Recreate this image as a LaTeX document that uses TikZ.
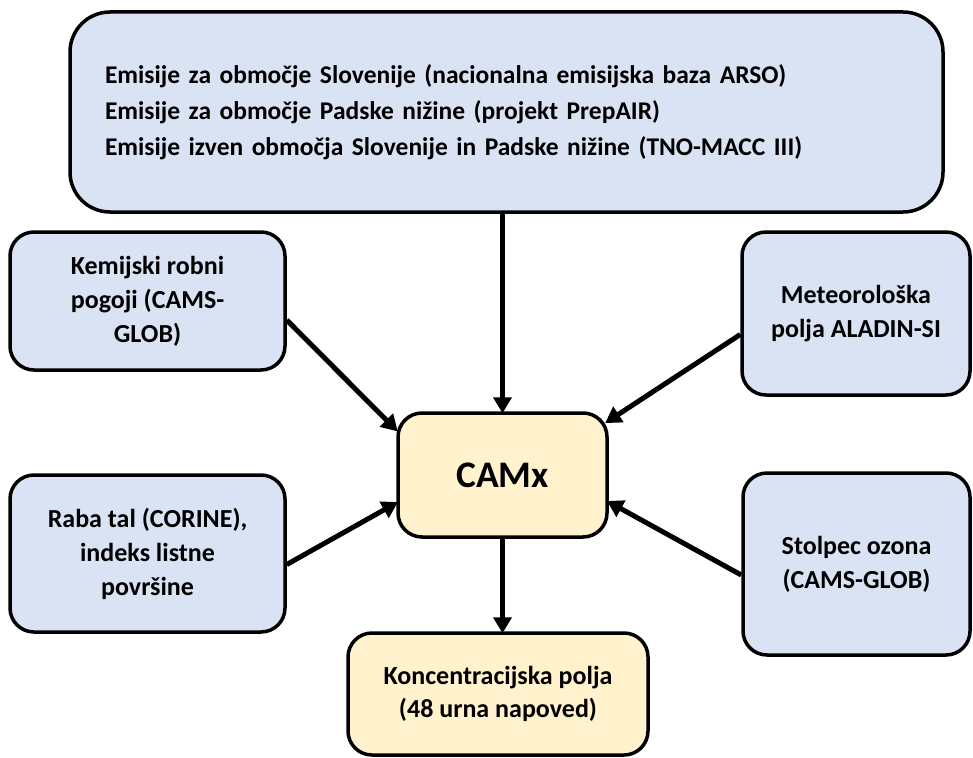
\documentclass[tikz,border=0pt]{standalone}
\usepackage{fontspec}
\setmainfont{Carlito}
\usetikzlibrary{arrows.meta}
\definecolor{boxblue}{HTML}{DAE3F3}
\definecolor{boxyellow}{HTML}{FFF2CC}
\begin{document}
\begin{tikzpicture}[x=1pt,y=-1pt,
  blubox/.style={draw=black, line width=3.5pt, fill=boxblue, rounded corners=24pt, align=center,
     font=\bfseries\fontsize{26}{34}\selectfont, inner sep=0pt},
  yelbox/.style={draw=black, line width=3.5pt, fill=boxyellow, rounded corners=24pt, align=center,
     inner sep=0pt},
  arr/.style={line width=5pt, -{Triangle[length=16pt,width=18pt]}, shorten >=-2pt}
]
\useasboundingbox (0,0) rectangle (973,757);
\node[blubox, rounded corners=40pt, minimum width=873pt, minimum height=200pt, text width=803pt, align=left,
  font=\bfseries\fontsize{25.5}{36}\selectfont] (emis) at (506.5,112)
  {Emisije za območje Slovenije (nacionalna emisijska baza ARSO)\\
   Emisije za območje Padske nižine (projekt PrepAIR)\\
   Emisije izven območja Slovenije in Padske nižine (TNO-MACC III)};
\node[blubox, minimum width=275pt, minimum height=138pt] (kem) at (147.5,301)
  {Kemijski robni\\pogoji (CAMS-\\GLOB)};
\node[blubox, minimum width=228pt, minimum height=163pt] (met) at (856,313.5)
  {Meteorološka\\polja ALADIN-SI};
\node[blubox, minimum width=275pt, minimum height=157pt] (raba) at (147.5,553.5)
  {Raba tal (CORINE),\\indeks listne\\površine};
\node[blubox, minimum width=227pt, minimum height=182pt] (stol) at (856.5,564)
  {Stolpec ozona\\(CAMS-GLOB)};
\node[yelbox, minimum width=209pt, minimum height=124pt, font=\bfseries\fontsize{37.5}{42}\selectfont] (camx) at (502.5,475)
  {CAMx};
\node[yelbox, minimum width=300pt, minimum height=122pt, font=\bfseries\fontsize{26}{33}\selectfont] (konc) at (498,694)
  {Koncentracijska polja\\(48 urna napoved)};
\draw[arr] (emis.south -| camx.north) -- (camx.north);
\draw[arr] ([yshift=-19pt]kem.east) -- ([yshift=45pt]camx.west);
\draw[arr] ([yshift=-21pt]met.west) -- ([xshift=-2pt,yshift=53pt]camx.east);
\draw[arr] ([yshift=-11pt]raba.east) -- ([yshift=-28pt]camx.west);
\draw[arr] ([yshift=-11pt]stol.west) -- ([yshift=-27pt]camx.east);
\draw[arr] (camx.south) -- (camx.south |- konc.north);
\end{tikzpicture}
\end{document}
